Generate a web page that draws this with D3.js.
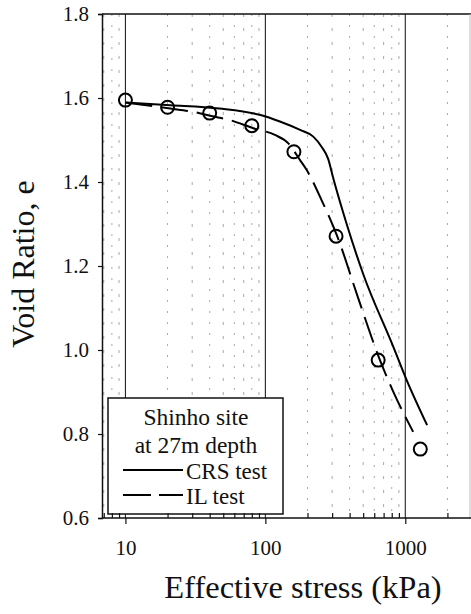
<!DOCTYPE html>
<html>
<head>
<meta charset="utf-8">
<script src="https://cdn.jsdelivr.net/npm/d3@7"></script>
<style>
  html, body { margin: 0; padding: 0; background: #fff; }
  svg { display: block; }
  text { font-family: "Liberation Serif", "Times New Roman", "DejaVu Serif", serif; fill: #111; }
</style>
</head>
<body>
<svg id="chart" width="471" height="614"></svg>
<script>
// ---- data ----
const xDomain = [6.8, 2900];
const yDomain = [0.6, 1.8];
const xTickLabels = [10, 100, 1000];
const xMinorTicks = [7, 8, 9, 20, 30, 40, 50, 60, 70, 80, 90, 200, 300, 400, 500, 600, 700, 800, 900, 2000];
const yTicks = [0.6, 0.8, 1.0, 1.2, 1.4, 1.6, 1.8];

const ilPointStress = [10, 20, 40, 80, 160, 320, 640, 1280];
const ilPointVoid = [1.595, 1.578, 1.564, 1.534, 1.472, 1.271, 0.976, 0.764];

const crsStress = [10, 21, 47, 91, 127, 177, 220, 252, 281, 305, 381, 500, 820, 1021, 1432];
const crsVoid = [1.589, 1.583, 1.575, 1.560, 1.544, 1.524, 1.508, 1.484, 1.455, 1.410, 1.300, 1.181, 1.008, 0.929, 0.821];

const ilStress = [10, 20.9, 30.5, 41, 55, 82, 117, 146, 177, 197, 252, 327, 458, 659, 820, 1138];
const ilVoid = [1.589, 1.575, 1.567, 1.557, 1.548, 1.528, 1.512, 1.492, 1.452, 1.429, 1.357, 1.270, 1.126, 0.976, 0.901, 0.805];

const legendTitle = ["Shinho site", "at 27m depth"];
const legendItems = ["CRS test", "IL test"];
const xTitle = "Effective stress (kPa)";
const yTitle = "Void Ratio, e";

// ---- layout ----
const pL = 102, pR = 470, pT = 14, pB = 518;
const svg = d3.select("#chart");
svg.append("rect").attr("width", 471).attr("height", 614).attr("fill", "#fff");

const x = d3.scaleLog().domain(xDomain).range([pL, pR]);
const y = d3.scaleLinear().domain(yDomain).range([pB, pT]);

// faint dotted minor grid (scan look)
svg.append("g").selectAll("line").data(xMinorTicks).join("line")
  .attr("x1", d => x(d)).attr("x2", d => x(d))
  .attr("y1", pT).attr("y2", pB)
  .attr("stroke", "#a8a8a8").attr("stroke-width", 1)
  .attr("stroke-dasharray", (d, i) => (i % 2 ? "2,9" : "3,11"));

// major vertical grid
svg.append("g").selectAll("line").data(xTickLabels).join("line")
  .attr("x1", d => x(d)).attr("x2", d => x(d))
  .attr("y1", pT).attr("y2", pB)
  .attr("stroke", "#222").attr("stroke-width", 1.1);

// frame
svg.append("line").attr("x1", pL).attr("x2", pR + 1).attr("y1", pT).attr("y2", pT)
  .attr("stroke", "#111").attr("stroke-width", 1.5);
svg.append("line").attr("x1", pR).attr("x2", pR).attr("y1", pT).attr("y2", pB)
  .attr("stroke", "#bbb").attr("stroke-width", 1);

// lines
const line = d3.line().x(d => x(d[0])).y(d => y(d[1])).curve(d3.curveMonotoneX);
svg.append("path").datum(crsStress.map((s, i) => [s, crsVoid[i]]))
  .attr("d", line).attr("fill", "none").attr("stroke", "#000").attr("stroke-width", 2);
svg.append("path").datum(ilStress.map((s, i) => [s, ilVoid[i]]))
  .attr("d", line).attr("fill", "none").attr("stroke", "#000").attr("stroke-width", 2)
  .attr("stroke-dasharray", "27,9");

// circles
svg.append("g").selectAll("circle").data(ilPointStress.map((s, i) => [s, ilPointVoid[i]])).join("circle")
  .attr("cx", d => x(d[0])).attr("cy", d => y(d[1])).attr("r", 6.5)
  .attr("fill", "none").attr("stroke", "#000").attr("stroke-width", 2);

// legend
const lg = svg.append("g");
lg.append("rect").attr("x", 108).attr("y", 398).attr("width", 175).attr("height", 116)
  .attr("fill", "#fff").attr("stroke", "#111").attr("stroke-width", 1.5);
lg.selectAll("text.t").data(legendTitle).join("text").attr("class", "t")
  .attr("x", 196).attr("y", (d, i) => 425 + i * 28)
  .attr("text-anchor", "middle").attr("font-size", 23.5).text(d => d);
lg.selectAll("line.k").data(legendItems).join("line").attr("class", "k")
  .attr("x1", 123).attr("x2", 183)
  .attr("y1", (d, i) => 470 + i * 25).attr("y2", (d, i) => 470 + i * 25)
  .attr("stroke", "#000").attr("stroke-width", 2)
  .attr("stroke-dasharray", (d, i) => i ? "28,8" : null);
lg.selectAll("text.k").data(legendItems).join("text").attr("class", "k")
  .attr("x", 186).attr("y", (d, i) => 479 + i * 25)
  .attr("font-size", 23).text(d => d);

// axes
const gx = svg.append("g").attr("transform", `translate(0,${pB})`)
  .call(d3.axisBottom(x).tickValues(xTickLabels).tickSize(6).tickPadding(16).tickFormat(d3.format("d")));
const gxm = svg.append("g").attr("transform", `translate(0,${pB})`)
  .call(d3.axisBottom(x).tickValues(xMinorTicks).tickSize(-5).tickFormat(""));
gxm.select(".domain").remove();
const gy = svg.append("g").attr("transform", `translate(${pL},0)`)
  .call(d3.axisLeft(y).tickValues(yTicks).tickSize(4).tickPadding(9).tickFormat(d3.format(".1f")));

[gx, gxm, gy].forEach(g => {
  g.selectAll(".domain").attr("stroke", "#111").attr("stroke-width", 1.5);
  g.selectAll(".tick line").attr("stroke", "#111").attr("stroke-width", 1.2);
  g.selectAll("text").attr("font-size", 21).attr("fill", "#111")
    .attr("font-family", '"Liberation Serif", "Times New Roman", serif');
});
gx.select(".domain").attr("d", `M${pL},0H${pR + 1}`);

// titles
svg.append("text").attr("x", 303).attr("y", 598).attr("text-anchor", "middle")
  .attr("font-size", 32.5).text(xTitle);
svg.append("text").attr("transform", "translate(34,264) rotate(-90)")
  .attr("text-anchor", "middle").attr("font-size", 32).text(yTitle);
</script>
</body>
</html>
